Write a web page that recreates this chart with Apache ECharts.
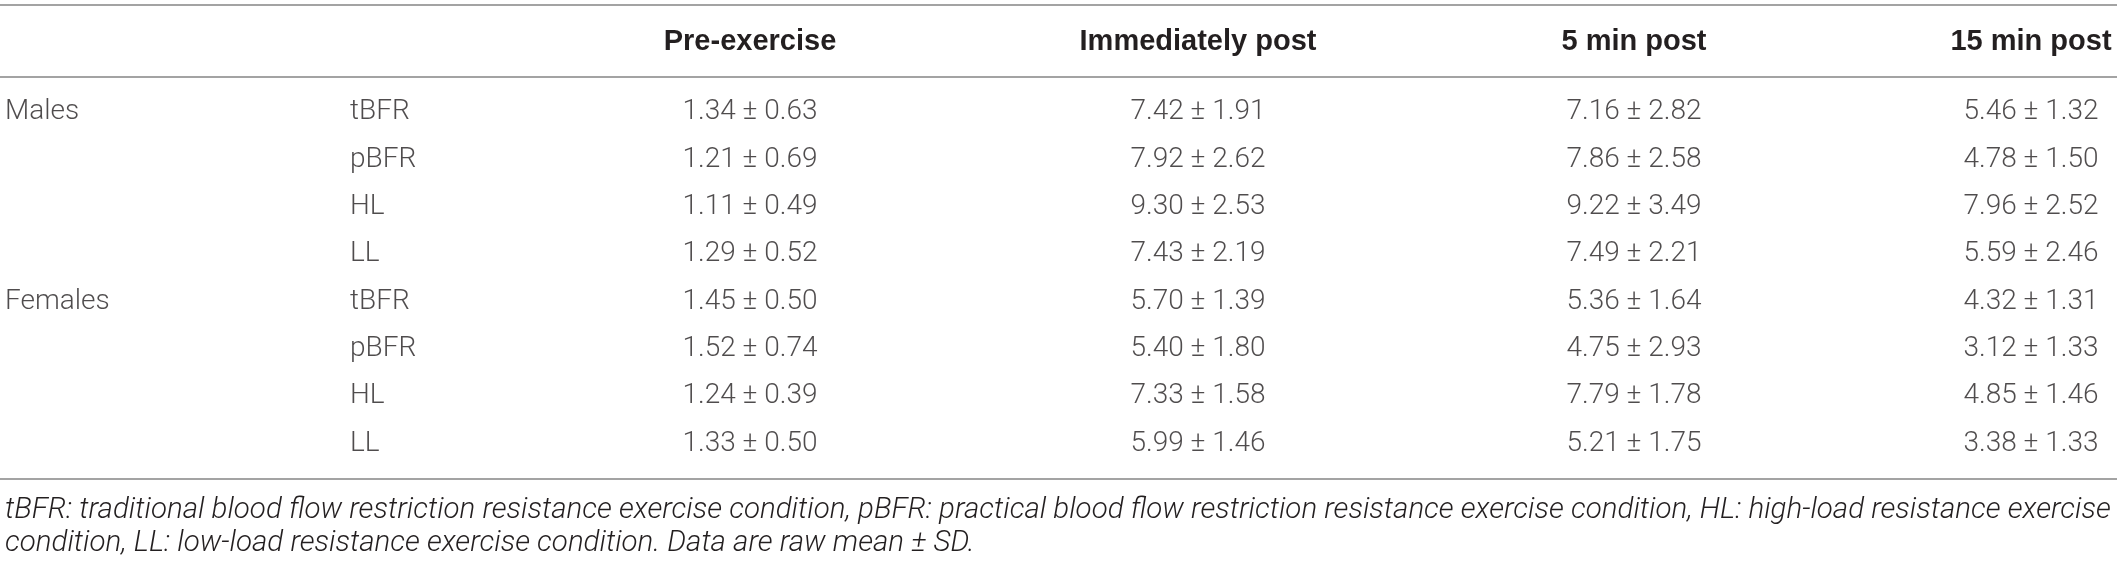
<!DOCTYPE html>
<html lang="en">
<head>
  <meta charset="UTF-8">
  <title>Raw mean ± SD by sex, condition and time point</title>
  <script src="https://cdn.jsdelivr.net/npm/echarts@6/dist/echarts.min.js"></script>
  <style>
    body { margin: 0; padding: 0; background: #fff; }
    #chart { width: 2117px; height: 563px; }
  </style>
</head>
<body>
  <div id="chart"></div>
  <script>
    // table data
    var timepoints = ['Pre-exercise', 'Immediately post', '5 min post', '15 min post'];
    var groups = ['Males', 'Females'];
    var conditions = ['tBFR', 'pBFR', 'HL', 'LL'];

    var meanMales = [
      [1.34, 7.42, 7.16, 5.46],
      [1.21, 7.92, 7.86, 4.78],
      [1.11, 9.30, 9.22, 7.96],
      [1.29, 7.43, 7.49, 5.59]
    ];
    var sdMales = [
      [0.63, 1.91, 2.82, 1.32],
      [0.69, 2.62, 2.58, 1.50],
      [0.49, 2.53, 3.49, 2.52],
      [0.52, 2.19, 2.21, 2.46]
    ];
    var meanFemales = [
      [1.45, 5.70, 5.36, 4.32],
      [1.52, 5.40, 4.75, 3.12],
      [1.24, 7.33, 7.79, 4.85],
      [1.33, 5.99, 5.21, 3.38]
    ];
    var sdFemales = [
      [0.50, 1.39, 1.64, 1.31],
      [0.74, 1.80, 2.93, 1.33],
      [0.39, 1.58, 1.78, 1.46],
      [0.50, 1.46, 1.75, 1.33]
    ];

    var footnote = [
      'tBFR: traditional blood flow restriction resistance exercise condition, pBFR: practical blood flow restriction resistance exercise condition, HL: high-load resistance exercise',
      'condition, LL: low-load resistance exercise condition. Data are raw mean ± SD.'
    ];

    // layout: column anchors on the x axis (page px) and their alignment
    var colAnchor = [5, 350, 750, 1198, 1634, 2031];
    var colAlign = ['left', 'left', 'center', 'center', 'center', 'center'];

    var ruleColor = '#a3a3a3';
    var textColor = '#231f20';
    var bodyFont = 'Roboto, "Liberation Sans", sans-serif';
    var headFont = '"Liberation Sans", Arial, sans-serif';

    var means = [meanMales, meanFemales];
    var sds = [sdMales, sdFemales];

    // build cells: [x, row, text, col]
    var cells = [];
    groups.forEach(function (g, gi) {
      conditions.forEach(function (c, ci) {
        var row = gi * conditions.length + ci;
        if (ci === 0) cells.push([colAnchor[0], row, g, 0]);
        cells.push([colAnchor[1], row, c, 1]);
        for (var t = 0; t < timepoints.length; t++) {
          var txt = means[gi][ci][t].toFixed(2) + ' ± ' + sds[gi][ci][t].toFixed(2);
          cells.push([colAnchor[t + 2], row, txt, t + 2]);
        }
      });
    });

    var chart = echarts.init(document.getElementById('chart'));

    var option = {
      backgroundColor: '#fff',
      animation: false,
      grid: { left: 0, right: 0, top: 77, bottom: 84 },
      xAxis: [
        {
          type: 'value',
          position: 'top',
          min: 0,
          max: 2117,
          splitLine: { show: false },
          axisTick: { show: false },
          axisLine: { show: true, onZero: false, lineStyle: { color: ruleColor, width: 2 } },
          axisLabel: {
            show: true,
            customValues: colAnchor.slice(2),
            formatter: function (v) {
              var i = colAnchor.indexOf(v);
              return i >= 2 ? timepoints[i - 2] : '';
            },
            margin: 35,
            verticalAlign: 'middle',
            color: textColor,
            fontFamily: headFont,
            fontWeight: 'bold',
            fontSize: 29
          }
        },
        {
          type: 'value',
          position: 'bottom',
          min: 0,
          max: 2117,
          splitLine: { show: false },
          axisTick: { show: false },
          axisLabel: { show: false },
          axisLine: { show: true, onZero: false, lineStyle: { color: ruleColor, width: 2 } }
        }
      ],
      yAxis: {
        type: 'value',
        inverse: true,
        min: -0.75,
        max: 7.75,
        show: false
      },
      graphic: [
        {
          type: 'line',
          shape: { x1: 0, y1: 5, x2: 2117, y2: 5 },
          style: { stroke: ruleColor, lineWidth: 2 }
        },
        {
          type: 'text',
          left: 5,
          top: 494,
          style: {
            text: footnote.join('\n'),
            fill: textColor,
            font: 'italic 300 29.5px ' + bodyFont,
            lineHeight: 33
          }
        }
      ],
      series: [
        {
          type: 'scatter',
          xAxisIndex: 0,
          symbolSize: 0,
          clip: false,
          silent: true,
          data: cells.map(function (c) {
            return {
              value: c,
              label: { align: colAlign[c[3]] }
            };
          }),
          label: {
            show: true,
            position: 'inside',
            verticalAlign: 'middle',
            formatter: function (p) { return p.value[2]; },
            color: textColor,
            fontFamily: bodyFont,
            fontWeight: 300,
            fontSize: 28
          }
        }
      ]
    };

    chart.setOption(option);
  </script>
</body>
</html>
